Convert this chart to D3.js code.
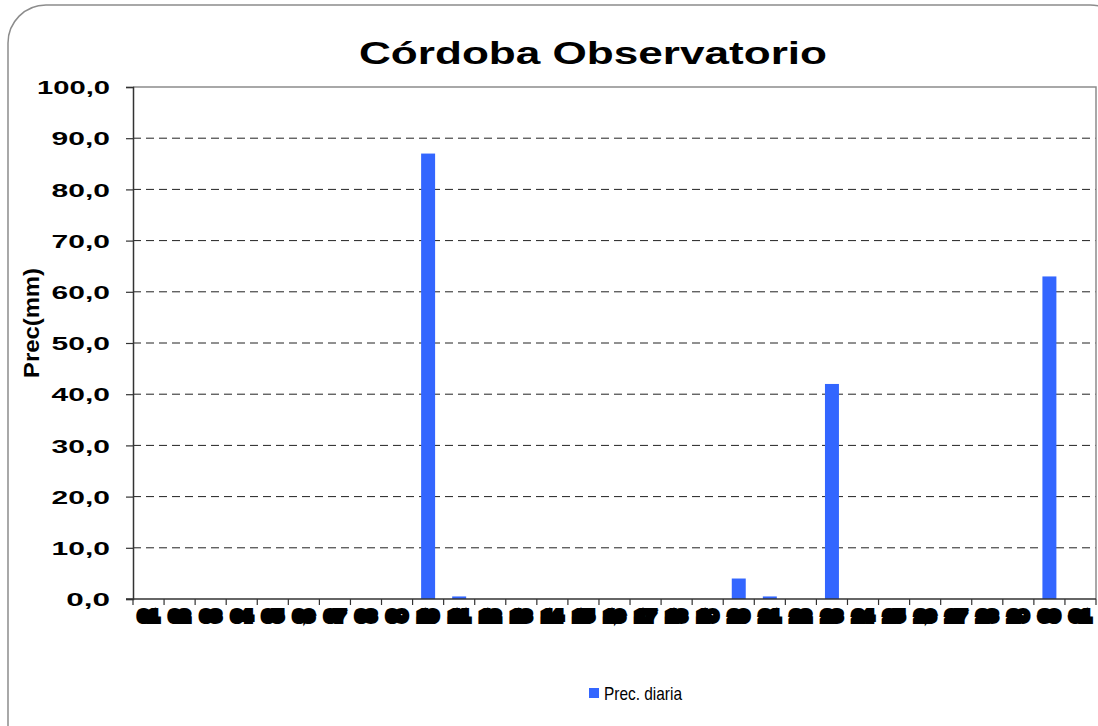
<!DOCTYPE html>
<html><head><meta charset="utf-8">
<script src="https://cdn.jsdelivr.net/npm/d3@7/dist/d3.min.js"></script>
<style>body{margin:0;background:#fff}svg{display:block}</style>
</head><body>
<svg id="c" width="1098" height="726"></svg>
<script>
const title = "Córdoba Observatorio";
const yLabel = "Prec(mm)";
const seriesName = "Prec. diaria";
const days = ["01","02","03","04","05","06","07","08","09","10","11","12","13","14","15","16","17","18","19","20","21","22","23","24","25","26","27","28","29","30","31"];
const prec = [0,0,0,0,0,0,0,0,0,87,0.5,0,0,0,0,0,0,0,0,4,0.5,0,42,0,0,0,0,0,0,63,0];
const yTicks = [0,10,20,30,40,50,60,70,80,90,100];

const svg = d3.select("#c");
const L = 133, R = 1096, T = 87, B = 599;

svg.append("rect").attr("x",8).attr("y",5).attr("width",1120).attr("height",760)
  .attr("rx",38).attr("fill","#fff").attr("stroke","#8c8c8c").attr("stroke-width",1.5);

const x = d3.scaleBand().domain(days).range([L,R]).paddingInner(0.55).paddingOuter(0.275);
const y = d3.scaleLinear().domain([0,100]).range([B,T]);
const fmt = d => d3.format(".1f")(d).replace(".",",");

// grid
svg.append("g").selectAll("line").data(yTicks.filter(d=>d>0 && d<100)).join("line")
  .attr("x1",L).attr("x2",R).attr("y1",d=>y(d)).attr("y2",d=>y(d))
  .attr("stroke","#222").attr("stroke-width",1).attr("stroke-dasharray","8,5");
// plot border top/right
svg.append("path").attr("d",`M${L},${T}H${R}V${B}`).attr("fill","none").attr("stroke","#8c8c8c").attr("stroke-width",1.5);

// bars
svg.append("g").selectAll("rect").data(prec).join("rect")
  .attr("x",(d,i)=>x(days[i])).attr("width",x.bandwidth())
  .attr("y",d=>y(d)).attr("height",d=>B-y(d)).attr("fill","#3366ff");

// y axis
const ya = svg.append("g").attr("transform",`translate(${L},0)`)
  .call(d3.axisLeft(y).tickValues(yTicks).tickSize(7).tickFormat(fmt).tickPadding(16));
ya.select(".domain").attr("stroke","#333").attr("stroke-width",1.5);
ya.selectAll(".tick line").attr("stroke","#333").attr("stroke-width",1.2);
ya.selectAll(".tick text").attr("font-family","Liberation Sans, Arial, sans-serif")
  .attr("font-weight","bold").attr("font-size",19).attr("fill","#000")
  .attr("dy","0.35em")
  .attr("textLength",d=>fmt(d).length*14.6).attr("lengthAdjust","spacingAndGlyphs");

// x axis
const xa = svg.append("g").attr("transform",`translate(0,${B})`);
xa.append("line").attr("x1",L-7).attr("x2",R).attr("stroke","#333").attr("stroke-width",1.5);
const bounds = days.map((d,i)=>L + i*(R-L)/days.length).concat([R]);
xa.selectAll("line.tk").data(bounds).join("line").attr("class","tk")
  .attr("x1",d=>d).attr("x2",d=>d).attr("y1",0).attr("y2",6).attr("stroke","#333").attr("stroke-width",1.2);
xa.selectAll("text").data(days).join("text")
  .attr("x",d=>x(d)+x.bandwidth()/2).attr("y",22).attr("text-anchor","middle")
  .attr("font-family","Liberation Sans, Arial, sans-serif").attr("font-weight","900").attr("font-size",15)
  .attr("fill","#000").attr("stroke","#000").attr("stroke-width",6).attr("stroke-linejoin","miter")
  .attr("textLength",19).attr("lengthAdjust","spacingAndGlyphs")
  .text(d=>d);

// title
svg.append("text").attr("x",593).attr("y",64).attr("text-anchor","middle")
  .attr("font-family","Liberation Sans, Arial, sans-serif").attr("font-weight","bold").attr("font-size",31)
  .attr("textLength",468).attr("lengthAdjust","spacingAndGlyphs").attr("fill","#000").text(title);

// y label
svg.append("text").attr("transform","translate(39,323) scale(1.45,1) rotate(-90)")
  .attr("text-anchor","middle").attr("font-family","Liberation Sans, Arial, sans-serif")
  .attr("font-weight","bold").attr("font-size",15).attr("textLength",110).attr("lengthAdjust","spacingAndGlyphs")
  .attr("fill","#000").text(yLabel);

// legend
const lg = svg.append("g");
lg.append("rect").attr("x",589).attr("y",688).attr("width",10).attr("height",10).attr("fill","#3366ff");
lg.append("text").attr("x",604).attr("y",700).attr("font-family","Liberation Sans, Arial, sans-serif")
  .attr("font-size",19).attr("textLength",78).attr("lengthAdjust","spacingAndGlyphs").attr("fill","#000").text(seriesName);
</script>
</body></html>
